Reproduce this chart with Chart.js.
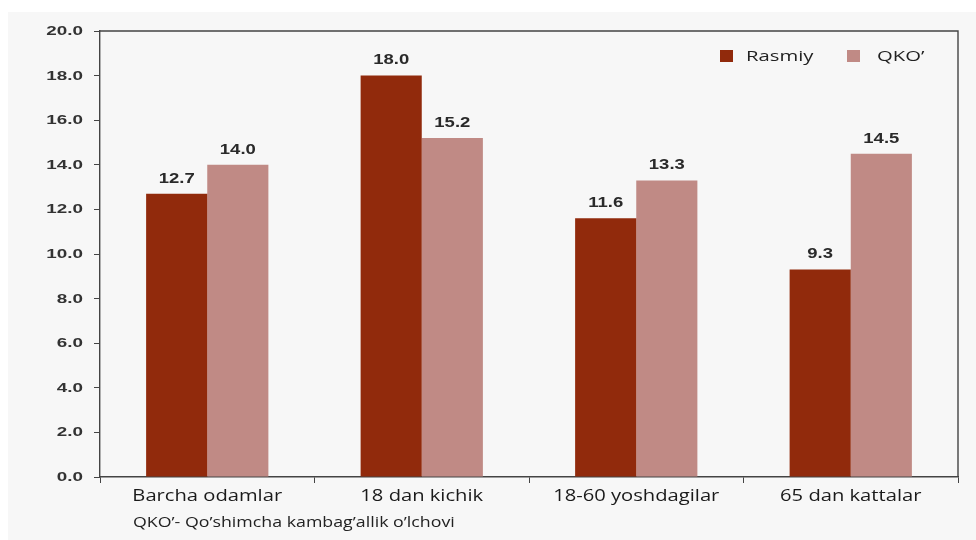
<!DOCTYPE html>
<html>
<head>
<meta charset="utf-8">
<script src="https://cdn.jsdelivr.net/npm/chart.js@4.4.0/dist/chart.umd.min.js"></script>
<style>
  html, body { margin: 0; padding: 0; background: #fff; }
  #wrap { width: 976px; height: 540px; }
</style>
</head>
<body>
<div id="wrap"><canvas id="myChart" width="976" height="540"></canvas></div>
<script>
// chart data
const categories = ["Barcha odamlar", "18 dan kichik", "18-60 yoshdagilar", "65 dan kattalar"];
const rasmiyValues = [12.7, 18.0, 11.6, 9.3];
const qkoValues = [14.0, 15.2, 13.3, 14.5];
const seriesLabels = ["Rasmiy", "QKO\u2019"];
const footnote = "QKO\u2019- Qo\u2019shimcha kambag\u2019allik o\u2019lchovi";

const sans = '"Liberation Sans", Arial, sans-serif';
const open = '"Open Sans", "Liberation Sans", sans-serif';

// text in the source image is stretched sideways, so draw it with a horizontal scale
function stretchText(ctx, text, x, y, sx, align) {
  ctx.save();
  ctx.translate(x, y);
  ctx.scale(sx, 1);
  ctx.textAlign = align;
  ctx.fillText(text, 0, 0);
  ctx.restore();
}

// background panel, plot frame, labels, legend, footnote
const decorPlugin = {
  id: 'decor',
  beforeDraw(chart) {
    const ctx = chart.ctx;
    ctx.save();
    ctx.fillStyle = '#ffffff';
    ctx.fillRect(0, 0, chart.width, chart.height);
    ctx.fillStyle = '#f7f7f7';
    ctx.fillRect(8, 12, chart.width - 8, chart.height - 12);
    ctx.restore();
  },
  afterDraw(chart) {
    const ctx = chart.ctx;
    const area = chart.chartArea;
    ctx.save();
    // top and right frame lines
    ctx.strokeStyle = '#444';
    ctx.lineWidth = 1.4;
    ctx.beginPath();
    ctx.moveTo(area.left, area.top);
    ctx.lineTo(area.right, area.top);
    ctx.lineTo(area.right, area.bottom);
    ctx.stroke();

    // y tick labels
    const y = chart.scales.y;
    ctx.font = 'bold 13px ' + sans;
    ctx.fillStyle = '#333';
    ctx.textBaseline = 'middle';
    y.ticks.forEach((t) => {
      stretchText(ctx, t.value.toFixed(1), area.left - 17, y.getPixelForValue(t.value) + 0.5, 1.45, 'right');
    });

    // x category labels
    const x = chart.scales.x;
    ctx.font = '16px ' + open;
    ctx.fillStyle = '#1a1a1a';
    ctx.textBaseline = 'alphabetic';
    categories.forEach((c, i) => {
      stretchText(ctx, c, x.getPixelForValue(i), area.bottom + 24, 1.26, 'center');
    });

    // value labels
    ctx.font = 'bold 14px ' + sans;
    ctx.fillStyle = '#2a2a2a';
    ctx.textBaseline = 'bottom';
    chart.data.datasets.forEach((ds, i) => {
      chart.getDatasetMeta(i).data.forEach((bar, j) => {
        stretchText(ctx, ds.data[j].toFixed(1), bar.x, bar.y - 8, 1.32, 'center');
      });
    });

    // legend
    const legendX = [720, 847];
    const legendGap = [26, 30];
    ctx.font = '15px ' + open;
    ctx.textBaseline = 'alphabetic';
    chart.data.datasets.forEach((ds, i) => {
      ctx.fillStyle = ds.backgroundColor;
      ctx.fillRect(legendX[i], 50, 13, 12);
      ctx.fillStyle = '#222';
      stretchText(ctx, ds.label, legendX[i] + legendGap[i], 61, 1.35, 'left');
    });

    // footnote
    ctx.font = '14px ' + open;
    ctx.fillStyle = '#222';
    stretchText(ctx, footnote, 133, 527, 1.27, 'left');
    ctx.restore();
  }
};

new Chart("myChart", {
  type: 'bar',
  data: {
    labels: categories,
    datasets: [
      {
        label: seriesLabels[0],
        backgroundColor: '#912a0c',
        data: rasmiyValues,
        categoryPercentage: 0.57,
        barPercentage: 1.0,
      },
      {
        label: seriesLabels[1],
        backgroundColor: '#c08a85',
        data: qkoValues,
        categoryPercentage: 0.57,
        barPercentage: 1.0,
      },
    ],
  },
  options: {
    responsive: false,
    animation: false,
    devicePixelRatio: 1,
    layout: { padding: { left: 0, top: 31, right: 18, bottom: 0 } },
    plugins: {
      legend: { display: false },
      tooltip: { enabled: false },
    },
    scales: {
      x: {
        type: 'category',
        afterFit(scale) { scale.height = 63; },
        grid: {
          offset: true,
          drawOnChartArea: false,
          drawTicks: true,
          tickLength: 6,
          color: '#444',
        },
        border: { color: '#444', width: 1.4 },
        ticks: { display: false },
      },
      y: {
        min: 0,
        max: 20,
        afterFit(scale) { scale.width = 100; },
        grid: {
          drawOnChartArea: false,
          drawTicks: true,
          tickLength: 6,
          color: '#444',
        },
        border: { color: '#444', width: 1.4 },
        ticks: { stepSize: 2, display: false },
      },
    },
  },
  plugins: [decorPlugin],
});
</script>
</body>
</html>
